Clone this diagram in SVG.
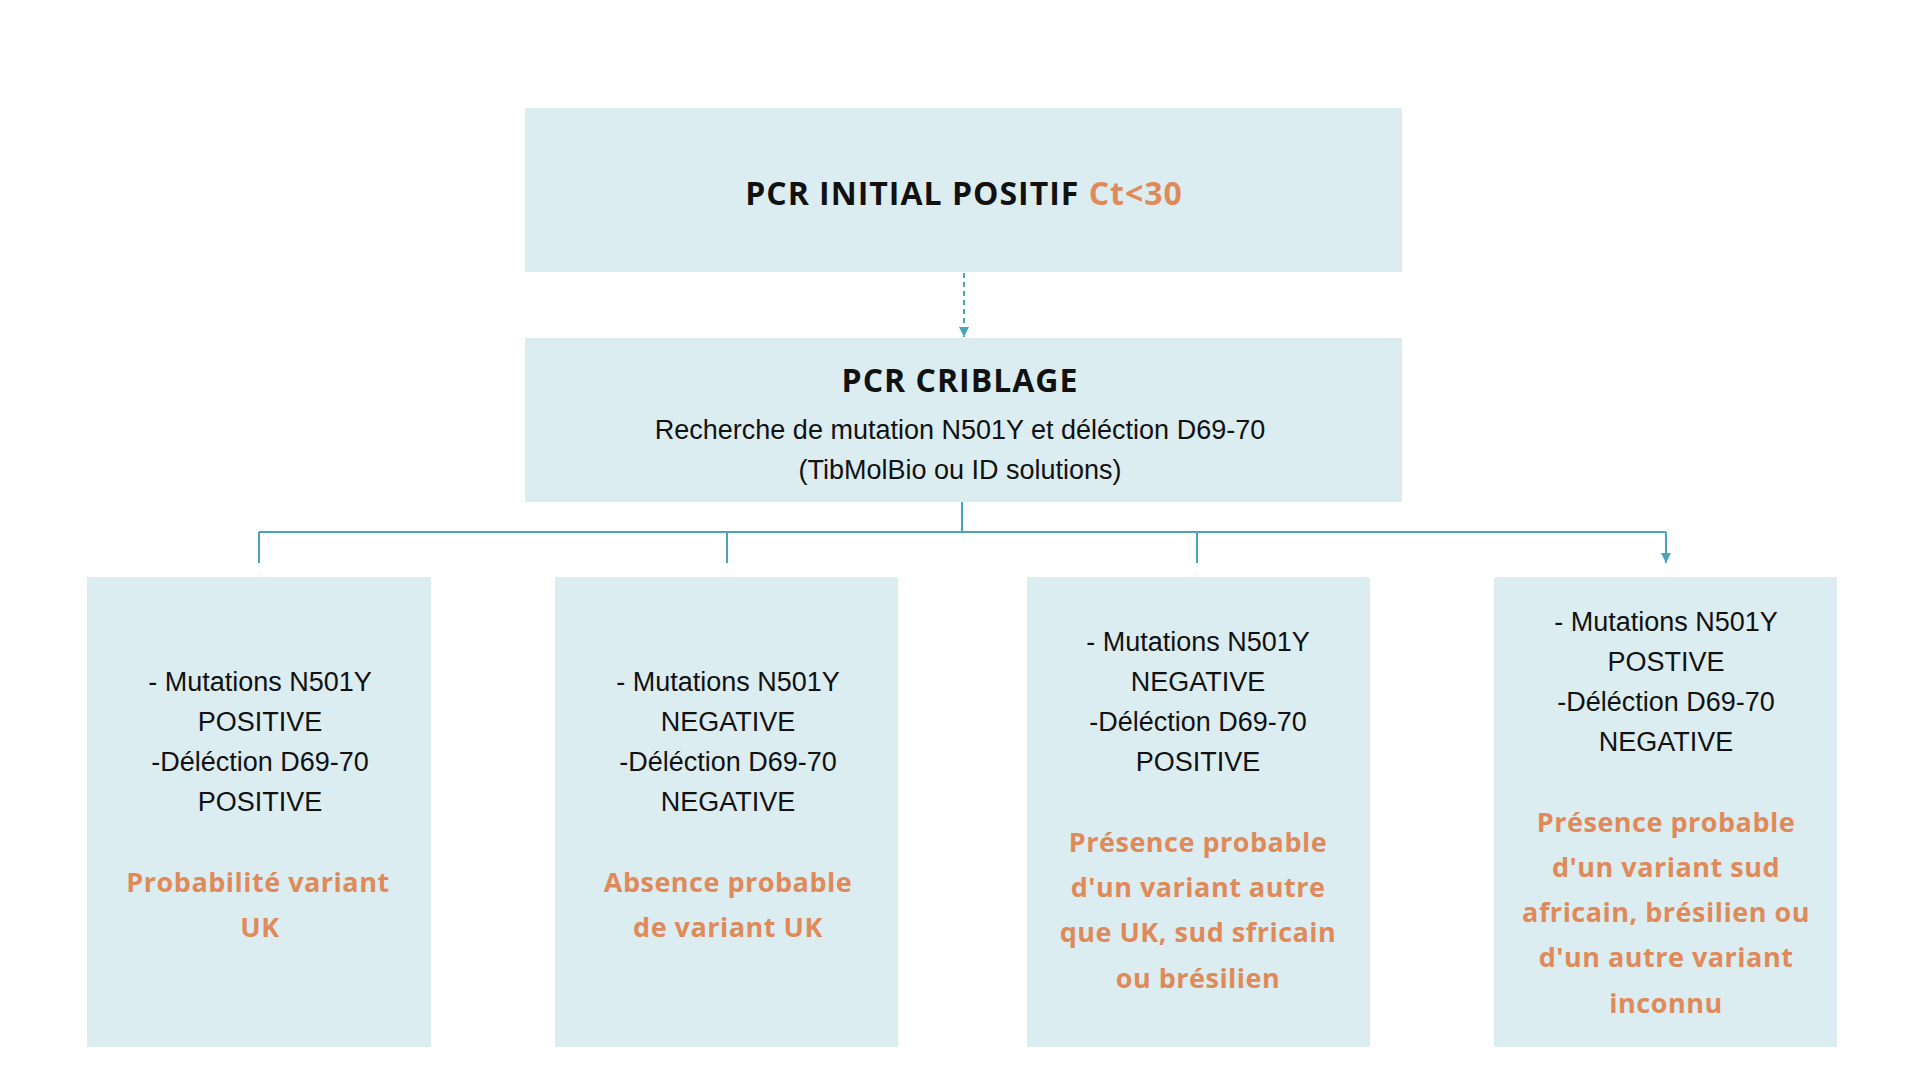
<svg xmlns="http://www.w3.org/2000/svg" width="1920" height="1080" viewBox="0 0 1920 1080">
<defs>
<style>
.box{fill:#dcedf1}
.t{font-family:"Liberation Sans",Arial,sans-serif;font-size:27px;fill:#111;text-anchor:middle}
.h{font-family:"Open Sans","DejaVu Sans",sans-serif;font-weight:bold;font-size:32px;fill:#111;text-anchor:middle;letter-spacing:1px}
.o{font-family:"Open Sans","DejaVu Sans",sans-serif;font-weight:bold;font-size:27px;fill:#e08a5a;text-anchor:middle;letter-spacing:0.5px}
.c{stroke:#4aa3b8;stroke-width:2;fill:none}
</style>
<marker id="a" viewBox="0 0 10 10" refX="5" refY="10" markerWidth="5" markerHeight="5" orient="auto-start-reverse"><path d="M0,0L10,0L5,10z" fill="#4aa3b8" transform="rotate(0)"/></marker>
<marker id="d" viewBox="0 0 10 10" refX="10" refY="5" markerWidth="5" markerHeight="5" orient="auto"><path d="M0,0L10,5L0,10z" fill="#4aa3b8"/></marker>
</defs>
<rect width="1920" height="1080" fill="#fff"/>
<g id="connectors">
<path class="c" d="M964,273V337" stroke-dasharray="5,4" marker-end="url(#d)"/>
<path class="c" d="M962,502V532M259,532H1666"/>
<path class="c" d="M259,532V563M727,532V563M1197,532V563M1666,532V563" marker-end="url(#d)"/>
</g>
<g id="n1"><rect class="box" x="525" y="108" width="877" height="164"/>
<text class="h" x="964" y="205">PCR INITIAL POSITIF <tspan fill="#e08a5a">Ct&lt;30</tspan></text></g>
<g id="n2"><rect class="box" x="525" y="338" width="877" height="164"/>
<text class="h" x="960" y="392">PCR CRIBLAGE</text>
<text class="t" x="960" y="439">Recherche de mutation N501Y et déléction D69-70</text>
<text class="t" x="960" y="479">(TibMolBio ou ID solutions)</text></g>
<g id="n3"><rect class="box" x="87" y="577" width="344" height="470"/>
<text class="t" x="260" y="691">- Mutations N501Y</text><text class="t" x="260" y="731">POSITIVE</text><text class="t" x="260" y="771">-Déléction D69-70</text><text class="t" x="260" y="811">POSITIVE</text>
<text class="o" x="258" y="892">Probabilité variant</text><text class="o" x="260" y="937">UK</text></g>
<g id="n4"><rect class="box" x="555" y="577" width="343" height="470"/>
<text class="t" x="728" y="691">- Mutations N501Y</text><text class="t" x="728" y="731">NEGATIVE</text><text class="t" x="728" y="771">-Déléction D69-70</text><text class="t" x="728" y="811">NEGATIVE</text>
<text class="o" x="728" y="892">Absence probable</text><text class="o" x="728" y="937">de variant UK</text></g>
<g id="n5"><rect class="box" x="1027" y="577" width="343" height="470"/>
<text class="t" x="1198" y="651">- Mutations N501Y</text><text class="t" x="1198" y="691">NEGATIVE</text><text class="t" x="1198" y="731">-Déléction D69-70</text><text class="t" x="1198" y="771">POSITIVE</text>
<text class="o" x="1198" y="852">Présence probable</text><text class="o" x="1198" y="897">d'un variant autre</text><text class="o" x="1198" y="942">que UK, sud sfricain</text><text class="o" x="1198" y="988">ou brésilien</text></g>
<g id="n6"><rect class="box" x="1494" y="577" width="343" height="470"/>
<text class="t" x="1666" y="631">- Mutations N501Y</text><text class="t" x="1666" y="671">POSTIVE</text><text class="t" x="1666" y="711">-Déléction D69-70</text><text class="t" x="1666" y="751">NEGATIVE</text>
<text class="o" x="1666" y="832">Présence probable</text><text class="o" x="1666" y="877">d'un variant sud</text><text class="o" x="1666" y="922">africain, brésilien ou</text><text class="o" x="1666" y="967">d'un autre variant</text><text class="o" x="1666" y="1013">inconnu</text></g>
</svg>
